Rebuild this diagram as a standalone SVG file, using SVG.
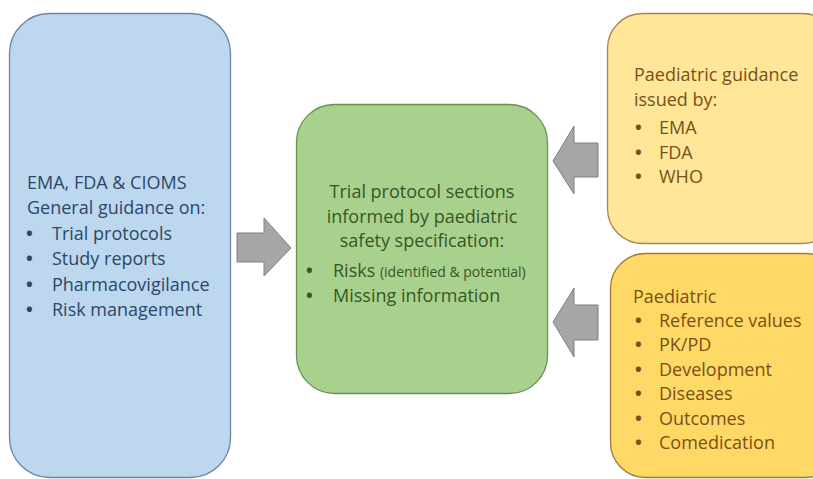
<svg xmlns="http://www.w3.org/2000/svg" width="813" height="479" viewBox="0 0 813 479">
<style>
  text { font-family: "Open Sans", "Noto Sans", "Liberation Sans", sans-serif; font-size: 18px; }
  .blue { fill: #2b4769; }
  .green { fill: #385625; }
  .brown { fill: #7a5016; }
  .small { font-size: 14px; }
  .b { font-weight: bold; }
  .arrow { fill: #a6a6a6; stroke: #808080; stroke-width: 1; }
</style>
<rect width="813" height="479" fill="#ffffff"/>

<g id="general-guidance">
  <rect x="9.5" y="13.5" width="221" height="464" rx="40" ry="40" fill="#bdd7ee" stroke="#6a84a6" stroke-width="1.3"/>
  <text class="blue" x="27" y="189">EMA, FDA &amp; CIOMS</text>
  <text class="blue" x="27" y="214">General guidance on:</text>
  <text class="blue b" x="26" y="240">•</text><text class="blue" x="52" y="240">Trial protocols</text>
  <text class="blue b" x="26" y="265">•</text><text class="blue" x="52" y="265">Study reports</text>
  <text class="blue b" x="26" y="291">•</text><text class="blue" x="52" y="291">Pharmacovigilance</text>
  <text class="blue b" x="26" y="316">•</text><text class="blue" x="52" y="316">Risk management</text>
</g>

<g id="trial-protocol">
  <rect x="296.5" y="104.5" width="251" height="289" rx="38" ry="38" fill="#a9d18e" stroke="#6b8f52" stroke-width="1.3"/>
  <text class="green" x="422" y="198" text-anchor="middle">Trial protocol sections</text>
  <text class="green" x="422" y="223" text-anchor="middle">informed by paediatric</text>
  <text class="green" x="422" y="247" text-anchor="middle">safety specification:</text>
  <text class="green b" x="306" y="277">•</text><text class="green" x="333" y="277">Risks <tspan class="small">(identified &amp; potential)</tspan></text>
  <text class="green b" x="306" y="302">•</text><text class="green" x="333" y="302">Missing information</text>
</g>

<g id="paediatric-guidance">
  <rect x="607.5" y="13.5" width="230" height="230" rx="35" ry="35" fill="#ffe699" stroke="#a9864c" stroke-width="1.3"/>
  <text class="brown" x="634" y="81">Paediatric guidance</text>
  <text class="brown" x="634" y="106">issued by:</text>
  <text class="brown b" x="635" y="134">•</text><text class="brown" x="659" y="134">EMA</text>
  <text class="brown b" x="635" y="159">•</text><text class="brown" x="659" y="159">FDA</text>
  <text class="brown b" x="635" y="183">•</text><text class="brown" x="659" y="183">WHO</text>
</g>

<g id="paediatric-data">
  <rect x="610.5" y="253.5" width="230" height="224" rx="35" ry="35" fill="#ffd966" stroke="#a07a34" stroke-width="1.3"/>
  <text class="brown" x="633" y="303">Paediatric</text>
  <text class="brown b" x="635" y="327">•</text><text class="brown" x="659" y="327">Reference values</text>
  <text class="brown b" x="635" y="351">•</text><text class="brown" x="659" y="351">PK/PD</text>
  <text class="brown b" x="635" y="376">•</text><text class="brown" x="659" y="376">Development</text>
  <text class="brown b" x="635" y="400">•</text><text class="brown" x="659" y="400">Diseases</text>
  <text class="brown b" x="635" y="425">•</text><text class="brown" x="659" y="425">Outcomes</text>
  <text class="brown b" x="635" y="449">•</text><text class="brown" x="659" y="449">Comedication</text>
</g>

<g id="connectors">
  <polygon class="arrow" points="237,233 264,233 264,218 291,248 264,276 264,262 237,262"/>
  <polygon class="arrow" points="598,143 574,143 574,126 553,161 574,194 574,177 598,177"/>
  <polygon class="arrow" points="598,305 574,305 574,288 553,322 574,357 574,340 598,340"/>
</g>
</svg>
